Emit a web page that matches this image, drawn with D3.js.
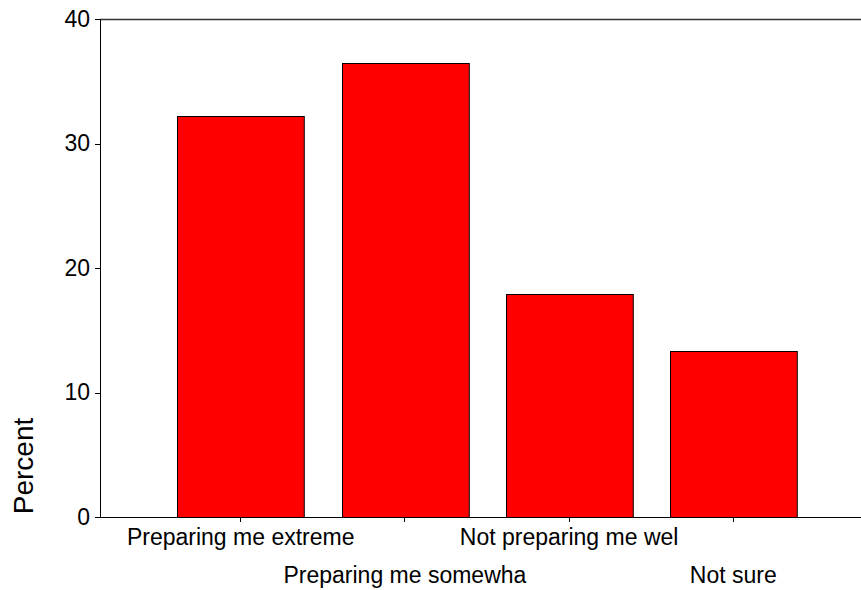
<!DOCTYPE html>
<html>
<head>
<meta charset="utf-8">
<script src="https://cdn.jsdelivr.net/npm/d3@7"></script>
<style>
body {
  margin: 0;
  background-color: white;
}
.axis text {
  font-family: "Liberation Sans", Arial, sans-serif;
  font-size: 23px;
  fill: black;
}
.axis path,
.axis line {
  stroke: black;
  shape-rendering: crispEdges;
}
</style>
</head>
<body>
<script>
const categories = ["Preparing me extreme", "Preparing me somewha", "Not preparing me wel", "Not sure"];
const percents = [32.2, 36.5, 17.9, 13.3];
const yTicks = [0, 10, 20, 30, 40];

const svg = d3.select("body")
              .append("svg")
              .attr("width", 861)
              .attr("height", 590);

// plot frame, in page pixels
const frame = {left: 100, right: 861, top: 19, bottom: 517};

const xScale = d3.scaleBand()
                 .domain(categories)
                 .range([158.6, 815.4])
                 .paddingInner(0.228)
                 .paddingOuter(0.114);

const yScale = d3.scaleLinear()
                 .domain([0, 40])
                 .range([frame.bottom, frame.top]);

// top border line
svg.append("line")
   .attr("x1", frame.left).attr("x2", frame.right)
   .attr("y1", frame.top + 0.5).attr("y2", frame.top + 0.5)
   .attr("stroke", "#333")
   .attr("stroke-width", 1.5);

svg.append("g")
   .selectAll("rect")
   .data(percents)
   .join("rect")
   .attr("x", (d, i) => Math.round(xScale(categories[i])) + 0.5)
   .attr("y", d => Math.round(yScale(d)) + 0.5)
   .attr("width", xScale.bandwidth())
   .attr("height", d => frame.bottom - Math.round(yScale(d)))
   .attr("fill", "#ff0000")
   .attr("stroke", "black")
   .attr("stroke-width", 1);

const yAxis = d3.axisLeft(yScale).tickValues(yTicks).tickSize(5).tickPadding(5).tickSizeOuter(0);
const gy = svg.append("g")
   .attr("class", "axis")
   .attr("transform", `translate(${frame.left}, 0)`)
   .call(yAxis);
gy.select(".domain").attr("d", `M0.5,${frame.top}V${frame.bottom}`);
gy.selectAll(".tick line").attr("x1", 0.5);

const xAxis = d3.axisBottom(xScale).tickSize(5).tickSizeOuter(0).tickPadding(6);
const gx = svg.append("g")
   .attr("class", "axis")
   .attr("transform", `translate(0, ${frame.bottom})`)
   .call(xAxis);
gx.select(".domain").attr("d", `M${frame.left},0.5H${frame.right}`);
// alternate label rows
gx.selectAll(".tick text")
  .attr("dy", null)
  .attr("y", (d, i) => i % 2 === 0 ? 28 : 66);

svg.append("text")
   .attr("transform", "translate(33, 466) rotate(-90)")
   .attr("text-anchor", "middle")
   .attr("font-family", "Liberation Sans, Arial, sans-serif")
   .attr("font-size", 28)
   .text("Percent");
</script>
</body>
</html>
